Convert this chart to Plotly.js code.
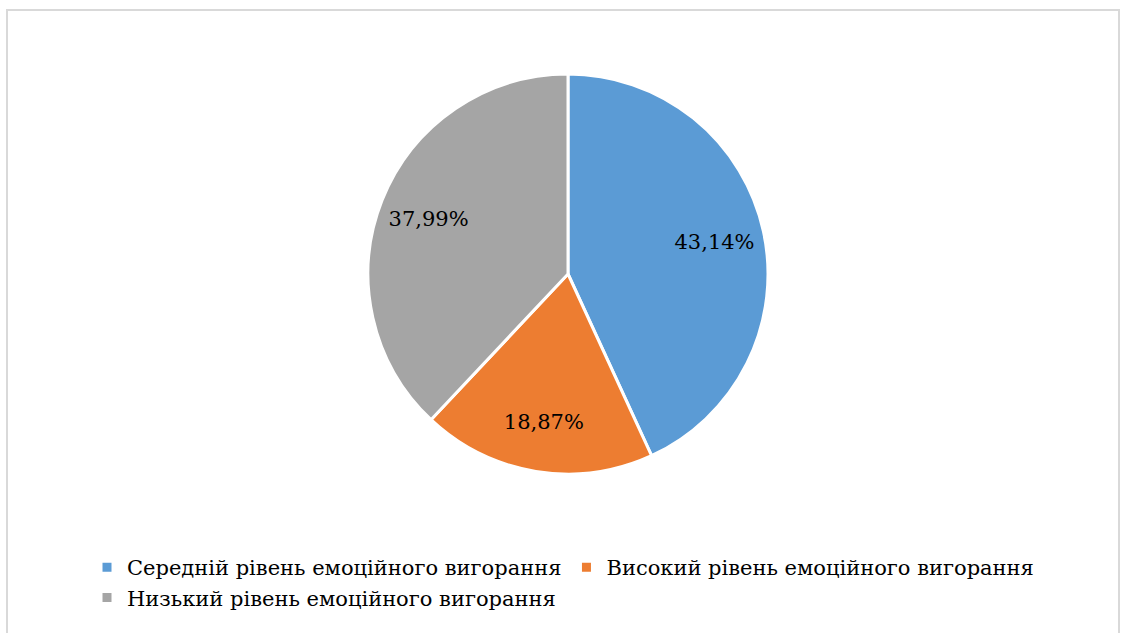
<!DOCTYPE html>
<html>
<head>
<meta charset="utf-8">
<script src="https://cdn.plot.ly/plotly-3.0.1.min.js"></script>
<style>
html,body{margin:0;padding:0;background:#fff;}
#chart{width:1121px;height:633px;}
</style>
</head>
<body>
<div id="chart"></div>
<script>
const categories = [
  "Середній рівень емоційного вигорання",
  "Високий рівень емоційного вигорання",
  "Низький рівень емоційного вигорання"
];
const values = [43.14, 18.87, 37.99];
const colors = ["#5B9BD5", "#ED7D31", "#A5A5A5"];

const W = 1121, H = 633;
const FONT = "DejaVu Serif";
const dom = {x: [368 / W, 768 / W], y: [1 - 474 / H, 1 - 74 / H]};

const pieTrace = {
  type: "pie",
  labels: categories,
  values: values,
  sort: false,
  direction: "clockwise",
  rotation: 0,
  marker: {colors: colors, line: {color: "#ffffff", width: 3}},
  textinfo: "none",
  hoverinfo: "none",
  domain: dom
};

const labelTrace = {
  type: "pie",
  labels: categories,
  values: values,
  sort: false,
  direction: "clockwise",
  rotation: 0,
  hole: 0.5,
  showlegend: false,
  marker: {colors: ["rgba(0,0,0,0)", "rgba(0,0,0,0)", "rgba(0,0,0,0)"], line: {width: 0}},
  texttemplate: "%{percent:.2%}",
  textposition: "inside",
  insidetextorientation: "horizontal",
  textfont: {family: FONT, size: 21, color: "#000000"},
  hoverinfo: "none",
  domain: dom
};

const layout = {
  width: W, height: H,
  margin: {l: 0, r: 0, t: 0, b: 0},
  paper_bgcolor: "#ffffff",
  separators: ", ",
  showlegend: true,
  legend: {
    orientation: "h",
    x: 87 / W, xanchor: "left",
    y: 1 - 547 / H, yanchor: "top",
    font: {family: FONT, size: 21, color: "#000000"},
    itemwidth: 30
  },
  shapes: [
    {type: "rect", xref: "paper", yref: "paper",
     x0: 7 / W, x1: 1119 / W, y0: -0.05, y1: 1 - 10 / H,
     line: {color: "#d9d9d9", width: 2}, fillcolor: "rgba(0,0,0,0)"}
  ]
};

Plotly.newPlot("chart", [pieTrace, labelTrace], layout, {displayModeBar: false, staticPlot: true});
</script>
</body>
</html>
